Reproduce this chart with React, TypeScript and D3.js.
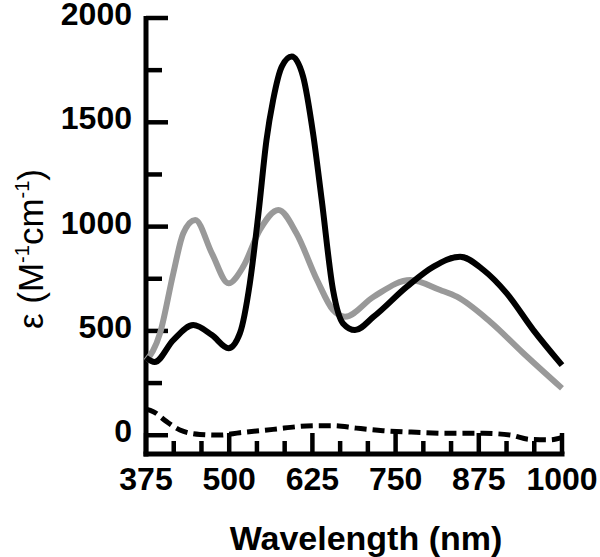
import * as d3 from "d3";

// wavelength (nm) vs molar absorptivity
const blackNm = [375, 388, 416, 446, 474, 499, 516, 531, 544, 556, 566, 579, 594, 611, 626, 639, 656, 671, 689, 717, 767, 807, 847, 882, 917, 957, 1000];
const blackEps = [372, 351, 456, 528, 480, 417, 488, 728, 1064, 1415, 1607, 1767, 1815, 1719, 1447, 1128, 696, 536, 504, 568, 712, 808, 856, 792, 680, 504, 336];

const grayNm = [375, 396, 416, 431, 449, 474, 499, 521, 546, 574, 601, 632, 656, 674, 717, 772, 817, 842, 892, 942, 1000];
const grayEps = [355, 488, 776, 968, 1032, 872, 728, 808, 984, 1080, 968, 744, 600, 568, 664, 744, 696, 664, 544, 393, 225];

const dashNm = [375, 386, 406, 426, 456, 486, 516, 566, 616, 656, 691, 731, 781, 832, 882, 922, 952, 982, 1000];
const dashEps = [125, 113, 65, 25, 4, 1, 12, 28, 44, 46, 34, 22, 14, 9, 9, 1, -20, -22, -10];

const xMajor = [375, 500, 625, 750, 875, 1000];
const yMajor = [0, 500, 1000, 1500, 2000];
const yMinor = [250, 750, 1250, 1750];

const font = "'Liberation Sans', Arial, Helvetica, sans-serif";

export default function App() {
  const x = d3.scaleLinear().domain([375, 1000]).range([146, 562]);
  const y = d3.scaleLinear().domain([-90, 2000]).range([454, 18]);

  // minor x ticks every 125/3 nm
  const xMinor = d3.range(1, 15).map((i) => 375 + (i * 125) / 3).filter((_, i) => (i + 1) % 3 !== 0);

  const line = d3
    .line<[number, number]>()
    .x((d) => x(d[0]))
    .y((d) => y(d[1]))
    .curve(d3.curveMonotoneX);

  const zip = (a: number[], b: number[]) => a.map((v, i) => [v, b[i]] as [number, number]);

  const x0 = x(375);
  const x1 = x(1000);
  const yb = y(-90);

  return (
    <svg width={600} height={557} style={{ position: "absolute", left: 0, top: 0 }} fontFamily={font}>
      {/* axes */}
      <line x1={x0} x2={x0} y1={y(2000) - 2} y2={yb + 2.5} stroke="#000" strokeWidth={5} />
      <line x1={x0 - 2.5} x2={x1 + 2.5} y1={yb} y2={yb} stroke="#000" strokeWidth={5} />
      {yMajor.map((v) => (
        <line key={"ym" + v} x1={x0} x2={x0 + 22} y1={y(v)} y2={y(v)} stroke="#000" strokeWidth={4.5} />
      ))}
      {yMinor.map((v) => (
        <line key={"yn" + v} x1={x0} x2={x0 + 16} y1={y(v)} y2={y(v)} stroke="#000" strokeWidth={4.5} />
      ))}
      {xMajor.map((v) => (
        <line key={"xm" + v} x1={x(v)} x2={x(v)} y1={yb} y2={yb - 21} stroke="#000" strokeWidth={4.5} />
      ))}
      {xMinor.map((v) => (
        <line key={"xn" + v} x1={x(v)} x2={x(v)} y1={yb} y2={yb - 13} stroke="#000" strokeWidth={4.5} />
      ))}
      {yMajor.map((v) => (
        <text key={"yl" + v} x={132} y={y(v) + 7} textAnchor="end" fontSize={32} fontWeight="bold">
          {v}
        </text>
      ))}
      {xMajor.map((v) => (
        <text key={"xl" + v} x={x(v)} y={490} textAnchor="middle" fontSize={32} fontWeight="bold">
          {v}
        </text>
      ))}
      <text x={366} y={550} textAnchor="middle" fontSize={34} fontWeight="bold">
        Wavelength (nm)
      </text>
      <text transform="translate(43,249) rotate(-90)" textAnchor="middle" fontSize={35}>
        ε (M<tspan fontSize={20} dy={-14}>-1</tspan>
        <tspan dy={14}>cm</tspan>
        <tspan fontSize={20} dy={-14}>-1</tspan>
        <tspan dy={14}>)</tspan>
      </text>

      {/* series */}
      <path d={line(zip(dashNm, dashEps)) ?? ""} fill="none" stroke="#000" strokeWidth={5} strokeDasharray="12,6" />
      <path d={line(zip(grayNm, grayEps)) ?? ""} fill="none" stroke="#999" strokeWidth={6} strokeLinejoin="round" />
      <path d={line(zip(blackNm, blackEps)) ?? ""} fill="none" stroke="#000" strokeWidth={6} strokeLinejoin="round" />
    </svg>
  );
}
